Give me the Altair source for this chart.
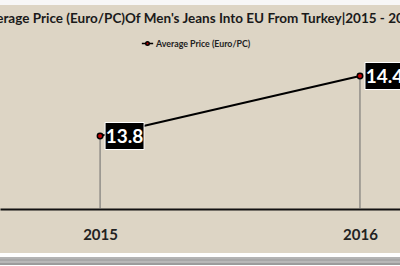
import altair as alt
import pandas as pd

years = [2015, 2016]
prices = [13.8, 14.4]
series_name = "Average Price (Euro/PC)"
title_text = "Average Price (Euro/PC)Of Men's Jeans Into EU From Turkey|2015 - 2016"
labels = ["13.8", "14.4"]

df = pd.DataFrame({"year": years, "price": prices, "label": labels, "series": series_name})

BASE = 13.07
xs = alt.Scale(domain=[2014.615, 2016.154], nice=False, zero=False)
ys = alt.Scale(domain=[12.62, 15.11], nice=False, zero=False)

X = alt.X("year:Q", scale=xs, title=None,
          axis=alt.Axis(values=years, format="d", grid=False, ticks=False,
                        domainColor="#111", domainWidth=2, offset=-45,
                        labelFont="Lato", labelFontSize=15, labelFontWeight="bold",
                        labelColor="#222", labelPadding=18, labelFlush=False))
Y = alt.Y("price:Q", scale=ys, axis=None)

base = alt.Chart(df)

drops = base.mark_rule(color="#6a6a6a", strokeWidth=1).encode(
    x=X, y=Y, y2=alt.datum(BASE))

line = base.mark_line(strokeWidth=2).encode(
    x=X, y=Y,
    color=alt.Color("series:N", scale=alt.Scale(range=["#000000"]),
                    legend=alt.Legend(title=None, orient="none", legendX=143, legendY=34,
                                      symbolType="M-1.6,0L-0.5,0M0.5,0A0.5,0.5 0 1,1 -0.5,0A0.5,0.5 0 1,1 0.5,0M0.5,0L1.6,0",
                                      symbolSize=50, symbolFillColor="#c00000",
                                      symbolStrokeColor="#000", symbolStrokeWidth=1.5,
                                      labelFont="Lato", labelFontSize=8.8, labelFontWeight="bold",
                                      labelColor="#222", labelOffset=4)))

pts = base.mark_point(filled=True, fill="#c00000", stroke="#000", strokeWidth=1.5,
                      size=30, opacity=1).encode(x=X, y=Y)

boxes = base.mark_point(shape="M-1.444,-1L1.444,-1L1.444,1L-1.444,1Z", size=729, filled=True,
                        fill="#000", stroke="#fff", strokeWidth=1, opacity=1,
                        xOffset=24.5).encode(x=X, y=Y)

texts = base.mark_text(font="Lato", fontSize=19, fontWeight="bold", color="#fff",
                       xOffset=24.5, baseline="middle", dy=1).encode(x=X, y=Y, text="label:N")

frame_bottom = base.mark_rect(fill="#ffffff", clip=False).encode(
    x=alt.value(0), x2=alt.value(400), y=alt.value(248), y2=alt.value(262))
stripe_specs = [(253, "#9a9a9a"), (255, "#8a8a8a"), (257, "#a0a0a0"), (259, "#7a7a7a")]
stripes = [base.mark_rule(color=c, strokeWidth=1, clip=False).encode(
    x=alt.value(0), x2=alt.value(400), y=alt.value(yy)) for yy, c in stripe_specs]

chart = alt.layer(drops, line, pts, boxes, texts, frame_bottom, *stripes).properties(
    width=400, height=249,
    title=alt.TitleParams(text=title_text, font="Lato", fontSize=13.5, fontWeight="bold",
                          color="#1a1a1a", anchor="middle", baseline="middle", offset=0, dy=27),
    padding={"top": 5, "bottom": 12, "left": 0, "right": 0},
    autosize=alt.AutoSizeParams(type="none"),
    background="#f7f7f7",
).configure_view(fill="#ddd5c5", stroke=None)

chart.save("out.html", embed_options={"renderer": "svg", "actions": False})
